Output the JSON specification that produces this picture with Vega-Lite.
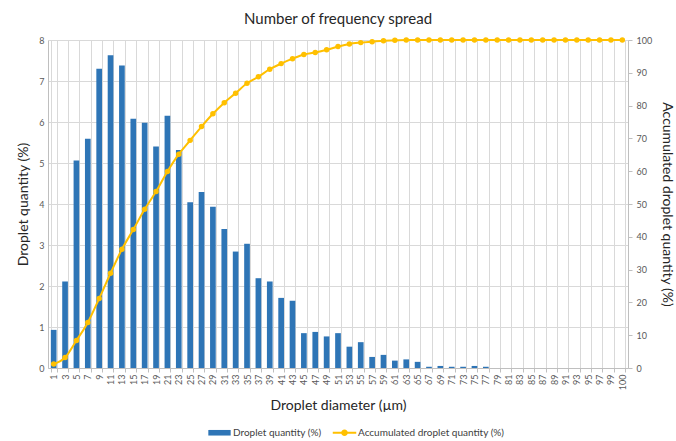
{
  "$schema": "https://vega.github.io/schema/vega-lite/v6.json",
  "width": 580,
  "height": 328,
  "autosize": {"type": "none"},
  "padding": {"left": 48, "top": 40, "right": 48, "bottom": 73},
  "background": "white",
  "title": {"text": "Number of frequency spread", "font": "Lato", "fontSize": 15, "fontWeight": "normal", "color": "#262626", "offset": 9},
  "config": {
    "font": "Lato",
    "view": {"stroke": null},
    "axis": {"labelFont": "Lato", "titleFont": "Lato", "labelColor": "#595959", "labelFontSize": 9, "titleFontSize": 14, "titleFontWeight": "normal", "titleColor": "#262626", "domainColor": "#bfbfbf", "tickColor": "#bfbfbf", "gridColor": "#d9d9d9", "tickSize": 4}
  },
  "data": {"values": [
    {"d": "1", "q": 0.93, "c": 1.2},
    {"d": "3", "q": 2.11, "c": 3.2},
    {"d": "5", "q": 5.06, "c": 8.4},
    {"d": "7", "q": 5.59, "c": 13.9},
    {"d": "9", "q": 7.30, "c": 21.2},
    {"d": "11", "q": 7.63, "c": 28.9},
    {"d": "13", "q": 7.38, "c": 36.2},
    {"d": "15", "q": 6.08, "c": 42.2},
    {"d": "17", "q": 5.98, "c": 48.4},
    {"d": "19", "q": 5.40, "c": 53.8},
    {"d": "21", "q": 6.15, "c": 59.9},
    {"d": "23", "q": 5.32, "c": 65.2},
    {"d": "25", "q": 4.04, "c": 69.4},
    {"d": "27", "q": 4.29, "c": 73.6},
    {"d": "29", "q": 3.93, "c": 77.5},
    {"d": "31", "q": 3.39, "c": 80.9},
    {"d": "33", "q": 2.84, "c": 83.8},
    {"d": "35", "q": 3.03, "c": 86.8},
    {"d": "37", "q": 2.19, "c": 88.8},
    {"d": "39", "q": 2.11, "c": 91.1},
    {"d": "41", "q": 1.71, "c": 92.8},
    {"d": "43", "q": 1.64, "c": 94.3},
    {"d": "45", "q": 0.85, "c": 95.6},
    {"d": "47", "q": 0.88, "c": 96.2},
    {"d": "49", "q": 0.77, "c": 97.0},
    {"d": "51", "q": 0.85, "c": 98.0},
    {"d": "53", "q": 0.52, "c": 98.8},
    {"d": "55", "q": 0.63, "c": 99.2},
    {"d": "57", "q": 0.27, "c": 99.5},
    {"d": "59", "q": 0.32, "c": 99.8},
    {"d": "61", "q": 0.18, "c": 99.9},
    {"d": "63", "q": 0.21, "c": 100},
    {"d": "65", "q": 0.15, "c": 100},
    {"d": "67", "q": 0.03, "c": 100},
    {"d": "69", "q": 0.05, "c": 100},
    {"d": "71", "q": 0.03, "c": 100},
    {"d": "73", "q": 0.03, "c": 100},
    {"d": "75", "q": 0.05, "c": 100},
    {"d": "77", "q": 0.03, "c": 100},
    {"d": "79", "q": 0, "c": 100},
    {"d": "81", "q": 0, "c": 100},
    {"d": "83", "q": 0, "c": 100},
    {"d": "85", "q": 0, "c": 100},
    {"d": "87", "q": 0, "c": 100},
    {"d": "89", "q": 0, "c": 100},
    {"d": "91", "q": 0, "c": 100},
    {"d": "93", "q": 0, "c": 100},
    {"d": "95", "q": 0, "c": 100},
    {"d": "97", "q": 0, "c": 100},
    {"d": "99", "q": 0, "c": 100},
    {"d": "100", "q": 0, "c": 100}
  ]},
  "encoding": {
    "x": {"field": "d", "type": "ordinal", "sort": null,
      "scale": {"paddingInner": 0.5, "paddingOuter": 0.25},
      "axis": {"title": "Droplet diameter (µm)", "labelAngle": -90, "labelPadding": 2, "tickBand": "extent", "grid": true, "titlePadding": 9}}
  },
  "layer": [
    {
      "mark": {"type": "bar", "color": "#2E75B6"},
      "encoding": {
        "y": {"field": "q", "type": "quantitative", "scale": {"domain": [0, 8]},
          "axis": {"title": "Droplet quantity (%)", "values": [0,1,2,3,4,5,6,7,8], "grid": true, "titlePadding": 8, "labelPadding": 4, "tickSize": 0}},
        "color": {"datum": "Droplet quantity (%)", "type": "nominal",
          "scale": {"domain": ["Droplet quantity (%)", "Accumulated droplet quantity (%)"], "range": ["#2E75B6", "#FFC000"]},
          "legend": {"orient": "none", "legendX": 160, "legendY": 381, "direction": "horizontal", "title": null, "labelFont": "Lato", "labelFontSize": 10, "labelColor": "#404040", "symbolSize": 500, "symbolStrokeWidth": 0, "columnPadding": 10, "labelOffset": 2,
            "encode": {"symbols": {"update": {"shape": {"signal": "datum.value === 'Droplet quantity (%)' ? 'M-1,-0.25H1V0.25H-1Z' : 'M-1.05,-0.08H1.05V0.08H-1.05Z M0.3,0 A0.3,0.3 0 1,1 -0.3,0 A0.3,0.3 0 1,1 0.3,0Z'"}}}}}
        }
      }
    },
    {
      "mark": {"type": "line", "color": "#FFC000", "strokeWidth": 2, "interpolate": "monotone", "point": {"filled": true, "size": 30, "color": "#FFC000"}},
      "encoding": {
        "y": {"field": "c", "type": "quantitative", "scale": {"domain": [0, 100]},
          "axis": {"orient": "right", "title": "Accumulated droplet quantity (%)", "titleAngle": 90, "values": [0,10,20,30,40,50,60,70,80,90,100], "grid": false, "titlePadding": 8, "labelPadding": 4}}
      }
    }
  ],
  "resolve": {"scale": {"y": "independent"}}
}
